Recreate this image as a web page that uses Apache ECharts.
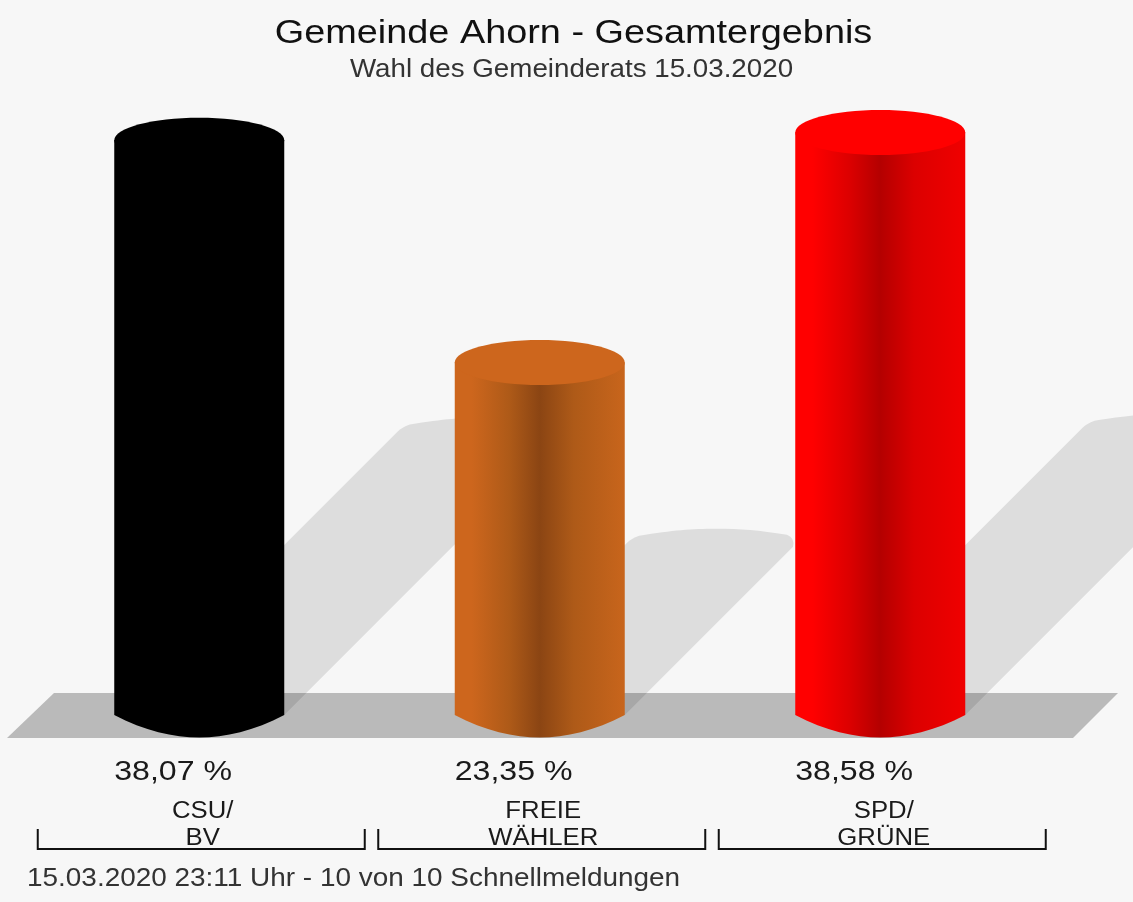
<!DOCTYPE html>
<html lang="de">
<head>
<meta charset="utf-8">
<title>Gemeinde Ahorn - Gesamtergebnis</title>
<style>
    html, body { margin: 0; padding: 0; background: #f7f7f7; }
    #chart { width: 1133px; height: 902px; }
</style>
<script src="https://cdn.jsdelivr.net/npm/echarts@6/dist/echarts.min.js"></script>
</head>
<body>
<div id="chart"></div>
<script>
// Values
const parties = ['CSU/\nBV', 'FREIE\nWÄHLER', 'SPD/\nGRÜNE'];
const percents = [38.07, 23.35, 38.58];
const percentLabels = ['38,07 %', '23,35 %', '38,58 %'];
const capColors = ['#000000', '#cd661d', '#ff0000'];
const edgeColors = [
    ['#000000', '#000000', '#000000', '#000000'],
    ['#cd661d', '#ae5a18', '#8b4513', '#c8651c'],
    ['#ff0000', '#dc0000', '#b40000', '#f00000']
];

const FONT = '"Liberation Sans", Arial, sans-serif';
const RX = 85;
const RY = 22.5;
const SHADOW_RY = 10;

const chart = echarts.init(document.getElementById('chart'), null, { renderer: 'canvas' });

// Half ellipse between two side points, bulge > 0 goes downwards
function arcTo(cx, y, rx, bulge) {
    return `C ${cx + rx * 0.65} ${y + bulge * 0.7} ${cx + rx * 0.3} ${y + bulge} ${cx} ${y + bulge} ` +
        `C ${cx - rx * 0.3} ${y + bulge} ${cx - rx * 0.65} ${y + bulge * 0.7} ${cx - rx} ${y}`;
}

// Shadow falls up and to the right, half as long as the cylinder
function renderShadow(params, api) {
    const base = api.coord([api.value(0), 0]);
    const top = api.coord([api.value(0), api.value(1)]);
    const d = (base[1] - top[1]) / 2;
    const cx = base[0] + d;
    const cy = base[1] - d;
    const path = `M ${base[0] - RX} ${base[1]} L ${cx - RX - 4} ${cy + 4} ` +
        `Q ${cx - RX} ${cy} ${cx - RX + 8} ${cy - 3} ` +
        `C ${cx - RX * 0.5} ${cy - SHADOW_RY * 0.85} ${cx - RX * 0.3} ${cy - SHADOW_RY} ${cx} ${cy - SHADOW_RY} ` +
        `C ${cx + RX * 0.3} ${cy - SHADOW_RY} ${cx + RX * 0.5} ${cy - SHADOW_RY * 0.85} ${cx + RX - 14} ${cy - 4} ` +
        `Q ${cx + RX - 6} ${cy - 1} ${cx + RX - 8} ${cy + 8} ` +
        `L ${base[0] + RX} ${base[1]} Z`;
    return { type: 'path', shape: { pathData: path }, style: { fill: 'rgba(0,0,0,0.1)' } };
}

function renderCylinder(params, api) {
    const i = params.dataIndex;
    const base = api.coord([api.value(0), 0]);
    const top = api.coord([api.value(0), api.value(1)]);
    const cx = base[0];
    const stops = edgeColors[i];
    const body = `M ${cx - RX} ${top[1]} L ${cx + RX} ${top[1]} L ${cx + RX} ${base[1]} ` +
        arcTo(cx, base[1], RX, RY) + ' Z';
    return {
        type: 'group',
        children: [
            {
                type: 'path',
                shape: { pathData: body },
                style: {
                    fill: {
                        type: 'linear', x: 0, y: 0, x2: 1, y2: 0,
                        colorStops: [
                            { offset: 0, color: stops[0] },
                            { offset: 0.1, color: stops[0] },
                            { offset: 0.32, color: stops[1] },
                            { offset: 0.5, color: stops[2] },
                            { offset: 0.7, color: stops[1] },
                            { offset: 1, color: stops[3] }
                        ]
                    }
                }
            },
            {
                type: 'ellipse',
                shape: { cx: cx, cy: top[1], rx: RX, ry: RY },
                style: { fill: capColors[i] }
            },
            {
                type: 'text',
                x: cx - RX,
                y: base[1] + 57,
                scaleX: 1.146,
                style: {
                    text: percentLabels[i],
                    fill: '#1a1a1a',
                    font: `28px ${FONT}`,
                    textAlign: 'left',
                    textVerticalAlign: 'middle'
                }
            }
        ]
    };
}

// Bracket and party name under each cylinder
function renderBracket(params, api) {
    const base = api.coord([api.value(0), 0]);
    const cx = base[0] + 2;
    const half = 163.5;
    const path = `M ${cx - half} 829 L ${cx - half} 849 L ${cx + half} 849 L ${cx + half} 829`;
    return {
        type: 'group',
        children: [
            {
                type: 'path',
                shape: { pathData: path },
                style: { fill: null, stroke: '#111111', lineWidth: 2 }
            },
            {
                type: 'text',
                x: cx + 1.5,
                y: 825,
                scaleX: 1.095,
                style: {
                    text: parties[params.dataIndex],
                    fill: '#1a1a1a',
                    font: `23.5px ${FONT}`,
                    lineHeight: 27,
                    textAlign: 'center',
                    textVerticalAlign: 'middle'
                }
            }
        ]
    };
}

const seriesData = percents.map((v, i) => [i, v]);

const option = {
    animation: false,
    backgroundColor: '#f7f7f7',
    grid: { left: 29, top: 111, width: 1021.5, height: 604 },
    xAxis: {
        type: 'category',
        data: parties,
        axisLine: { show: false },
        axisTick: { show: false },
        axisLabel: { show: false }
    },
    yAxis: { type: 'value', min: 0, max: 40, show: false },
    graphic: [
        {
            type: 'polygon',
            z: 0,
            shape: { points: [[54, 693], [1118, 693], [1073, 738], [7, 738]] },
            style: { fill: '#bababa' }
        },
        {
            type: 'text',
            z: 3,
            x: 573.5,
            y: 34,
            scaleX: 1.13,
            style: {
                text: 'Gemeinde Ahorn - Gesamtergebnis',
                fill: '#111111',
                font: `33.5px ${FONT}`,
                textAlign: 'center',
                textVerticalAlign: 'middle'
            }
        },
        {
            type: 'text',
            z: 3,
            x: 571.5,
            y: 70,
            scaleX: 1.067,
            style: {
                text: 'Wahl des Gemeinderats 15.03.2020',
                fill: '#333333',
                font: `26px ${FONT}`,
                textAlign: 'center',
                textVerticalAlign: 'middle'
            }
        },
        {
            type: 'text',
            z: 3,
            x: 27,
            y: 879,
            scaleX: 1.074,
            style: {
                text: '15.03.2020 23:11 Uhr - 10 von 10 Schnellmeldungen',
                fill: '#333333',
                font: `26px ${FONT}`,
                textAlign: 'left',
                textVerticalAlign: 'middle'
            }
        }
    ],
    series: [
        { type: 'custom', z: 1, clip: false, silent: true, renderItem: renderShadow, data: seriesData },
        { type: 'custom', z: 2, clip: false, renderItem: renderCylinder, data: seriesData },
        { type: 'custom', z: 3, clip: false, silent: true, renderItem: renderBracket, data: seriesData }
    ]
};

chart.setOption(option);
window.addEventListener('resize', () => chart.resize());
</script>
</body>
</html>
